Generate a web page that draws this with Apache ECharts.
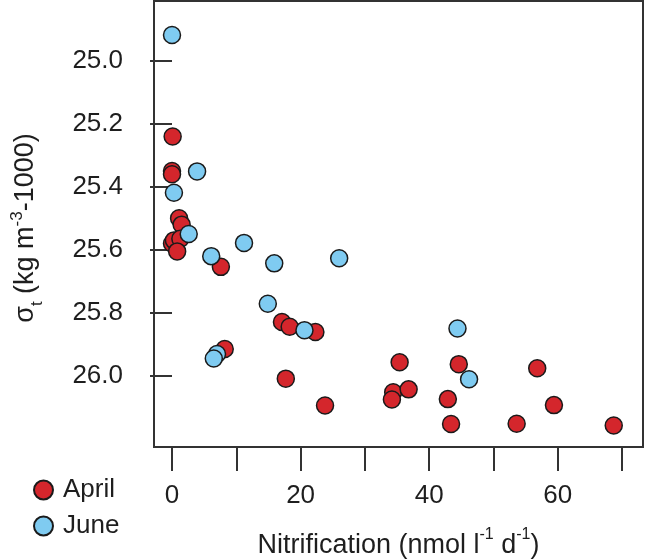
<!DOCTYPE html>
<html>
<head>
<meta charset="utf-8">
<style>
  html, body { margin: 0; padding: 0; background: #ffffff; }
  #chart { width: 645px; height: 559px; }
</style>
<script src="https://cdn.jsdelivr.net/npm/echarts@6/dist/echarts.min.js"></script>
</head>
<body>
<div id="chart"></div>
<script>
// April: [nitrification, sigma-t]
const aprilX = [0.1, 0.0, 0.0, 1.1, 1.5, 0.0, 0.3, 1.3, 0.8, 7.6, 8.2, 17.1, 18.3, 22.3, 17.7, 23.8, 35.4, 34.4, 34.2, 36.8, 42.9, 43.4, 44.6, 53.6, 56.8, 59.4, 68.7];
const aprilY = [25.24, 25.35, 25.36, 25.50, 25.52, 25.58, 25.57, 25.565, 25.605, 25.654, 25.915, 25.829, 25.844, 25.861, 26.009, 26.094, 25.957, 26.052, 26.075, 26.043, 26.074, 26.153, 25.963, 26.152, 25.976, 26.093, 26.158];
// June
const juneX = [0.0, 3.9, 0.3, 2.6, 6.1, 11.2, 15.9, 26.0, 14.9, 20.6, 7.0, 6.5, 44.4, 46.2];
const juneY = [24.918, 25.351, 25.419, 25.55, 25.62, 25.578, 25.643, 25.627, 25.771, 25.855, 25.931, 25.945, 25.85, 26.011];

const xTickValues = [0, 10, 20, 30, 40, 50, 60, 70];
const xLabelValues = [0, 20, 40, 60];
const yTickValues = [25.0, 25.2, 25.4, 25.6, 25.8, 26.0];

const seriesNames = ['April', 'June'];
const seriesColors = ['#d4262c', '#7fcbf1'];

const font = 'Liberation Sans, Arial, Helvetica, sans-serif';
const textColor = '#1e1e1e';

function pairs(xs, ys) { return xs.map((x, i) => [x, ys[i]]); }

const chart = echarts.init(document.getElementById('chart'), null, { renderer: 'canvas' });
chart.setOption({
  animation: false,
  backgroundColor: '#ffffff',
  textStyle: { fontFamily: font },
  grid: { left: 154, top: 1, right: 2, bottom: 112, outerBoundsMode: 'none', containLabel: false, show: true, borderColor: '#333333', borderWidth: 2, backgroundColor: 'transparent' },
  legend: {
    orient: 'vertical',
    left: 28, top: 472,
    itemWidth: 19, itemHeight: 19, itemGap: 10,
    icon: 'circle',
    textStyle: { fontSize: 26, color: textColor, fontFamily: font, padding: [0, 0, 0, 5] },
    data: seriesNames
  },
  xAxis: {
    type: 'value', min: -2.8, max: 73.25,
    axisLine: { show: false },
    splitLine: { show: false },
    axisTick: { show: true, length: 24, lineStyle: { color: '#333333', width: 2 }, customValues: xTickValues },
    axisLabel: { fontSize: 26, color: textColor, fontFamily: font, margin: 36, customValues: xLabelValues, formatter: v => String(v) },
    name: '{n|Nitrification (nmol l}{sup|-1}{n| d}{sup|-1}{n|)}',
    nameLocation: 'middle', nameGap: 80,
    nameTextStyle: {
      rich: {
        n: { fontSize: 27, color: textColor, fontFamily: font, lineHeight: 32, verticalAlign: 'bottom' },
        sup: { fontSize: 16, color: textColor, fontFamily: font, lineHeight: 32, verticalAlign: 'top' }
      }
    }
  },
  yAxis: {
    type: 'value', min: 24.81, max: 26.226, inverse: true,
    axisLine: { show: false },
    splitLine: { show: false },
    axisTick: { show: true, length: 22, lineStyle: { color: '#333333', width: 2 }, customValues: yTickValues },
    axisLabel: { fontSize: 26, color: textColor, fontFamily: font, margin: 31, customValues: yTickValues, formatter: v => v.toFixed(1) },
    name: '{n|σ}{sub|t}{n| (kg m}{sup|-3}{n|-1000)}',
    nameLocation: 'middle', nameGap: 111, nameRotate: 90,
    nameTextStyle: {
      padding: [0, 8, 0, 0],
      rich: {
        n: { fontSize: 27, color: textColor, fontFamily: font, lineHeight: 34 },
        sub: { fontSize: 17, color: textColor, fontFamily: font, lineHeight: 34, verticalAlign: 'bottom', padding: [0, 0, -3, 0] },
        sup: { fontSize: 17, color: textColor, fontFamily: font, lineHeight: 34, verticalAlign: 'top' }
      }
    }
  },
  series: [
    {
      name: seriesNames[0], type: 'scatter', symbol: 'circle', symbolSize: 17, z: 2,
      itemStyle: { color: seriesColors[0], borderColor: '#1a1a1a', borderWidth: 1.5, opacity: 1 },
      data: pairs(aprilX, aprilY)
    },
    {
      name: seriesNames[1], type: 'scatter', symbol: 'circle', symbolSize: 17, z: 3,
      itemStyle: { color: seriesColors[1], borderColor: '#1a1a1a', borderWidth: 1.5, opacity: 1 },
      data: pairs(juneX, juneY)
    }
  ]
});
</script>
</body>
</html>
